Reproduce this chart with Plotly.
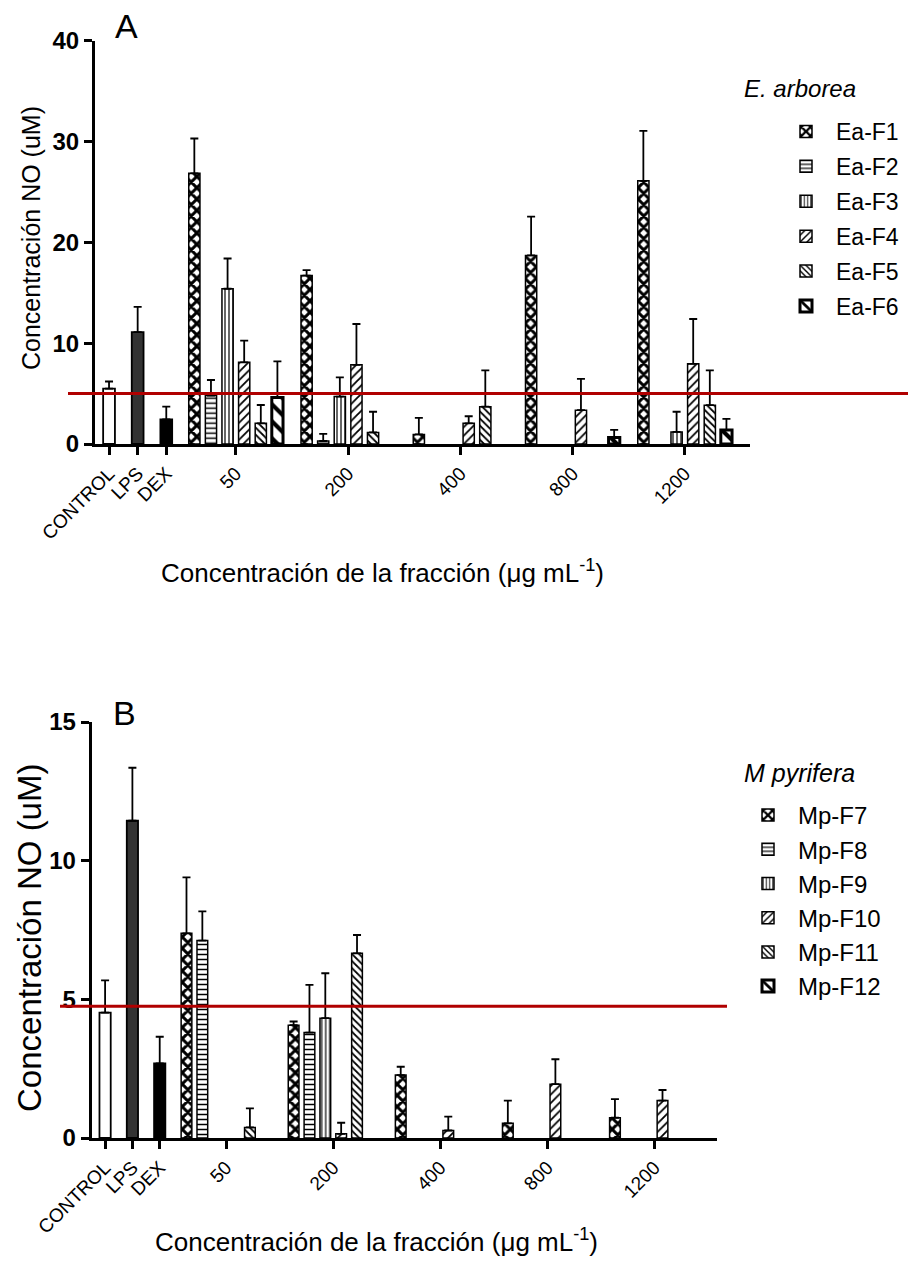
import plotly.graph_objects as go

# ---------------- data ----------------
controls = ["CONTROL", "LPS", "DEX"]
concentrations = ["50", "200", "400", "800", "1200"]

# Panel A - E. arborea
a_series = ["Ea-F1", "Ea-F2", "Ea-F3", "Ea-F4", "Ea-F5", "Ea-F6"]
a_control_mean = [5.5, 11.1, 2.45]
a_control_err = [0.7, 2.5, 1.25]
a_f1 = [26.85, 16.7, 0.95, 18.7, 26.1]
a_f1_err = [3.45, 0.55, 1.65, 3.85, 4.95]
a_f2 = [4.8, 0.3, None, None, None]
a_f2_err = [1.55, 0.7, None, None, None]
a_f3 = [15.4, 4.7, None, None, 1.2]
a_f3_err = [3.0, 1.9, None, None, 2.0]
a_f4 = [8.1, 7.85, 2.05, 3.35, 7.95]
a_f4_err = [2.15, 4.05, 0.7, 3.1, 4.45]
a_f5 = [2.05, 1.15, 3.7, None, 3.85]
a_f5_err = [1.82, 2.05, 3.6, None, 3.45]
a_f6 = [4.6, None, None, 0.65, 1.4]
a_f6_err = [3.6, None, None, 0.75, 1.1]
threshold_a = 5.0

# Panel B - M. pyrifera
b_series = ["Mp-F7", "Mp-F8", "Mp-F9", "Mp-F10", "Mp-F11", "Mp-F12"]
b_control_mean = [4.52, 11.44, 2.69]
b_control_err = [1.16, 1.91, 0.96]
b_f7 = [7.38, 4.07, 2.27, 0.53, 0.73]
b_f7_err = [2.02, 0.13, 0.3, 0.82, 0.67]
b_f8 = [7.12, 3.8, None, None, None]
b_f8_err = [1.05, 1.72, None, None, None]
b_f9 = [None, 4.32, None, None, None]
b_f9_err = [None, 1.62, None, None, None]
b_f10 = [None, 0.15, 0.27, 1.94, 1.35]
b_f10_err = [None, 0.4, 0.5, 0.9, 0.38]
b_f11 = [0.38, 6.66, None, None, None]
b_f11_err = [0.69, 0.66, None, None, None]
b_f12 = [None, None, None, None, None]
b_f12_err = [None, None, None, None, None]
threshold_b = 4.75

a_values = [a_f1, a_f2, a_f3, a_f4, a_f5, a_f6]
a_errors = [a_f1_err, a_f2_err, a_f3_err, a_f4_err, a_f5_err, a_f6_err]
b_values = [b_f7, b_f8, b_f9, b_f10, b_f11, b_f12]
b_errors = [b_f7_err, b_f8_err, b_f9_err, b_f10_err, b_f11_err, b_f12_err]

# ---------------- style / layout constants ----------------
FONT = "Liberation Sans, Arial, Helvetica, sans-serif"
PAGE_MARGIN = 8            # default body margin of the html page
W, H = 916 - 2 * PAGE_MARGIN, 1282 - 2 * PAGE_MARGIN
CTRL_START, CTRL_STEP = -0.13, 0.255
SLOT = 0.148
BAR_W = 0.10
CTRL_W = 0.105
control_colors = ["white", "#333333", "black"]
patterns = [
    dict(shape="x", size=8, solidity=0.6),
    dict(shape="-", size=5, solidity=0.3),
    dict(shape="|", size=4, solidity=0.3),
    dict(shape="/", size=6, solidity=0.3),
    dict(shape="\\", size=5, solidity=0.35),
    dict(shape="\\", size=12, solidity=0.35),
]
line_widths = [1.5, 1.5, 1.5, 1.5, 1.5, 3]

ctrl_x = [CTRL_START + i * CTRL_STEP for i in range(len(controls))]
group_x = [j + 1 for j in range(len(concentrations))]


def err(arr):
    return dict(type="data", array=arr, arrayminus=[0 if v is not None else None for v in arr],
                symmetric=False, color="black", thickness=1.8, width=4)


fig = go.Figure()


def add_panel(xa, ya, legend, ctrl_mean, ctrl_err, names, values, errors):
    fig.add_trace(go.Bar(
        x=ctrl_x, y=ctrl_mean, width=CTRL_W, xaxis=xa, yaxis=ya,
        marker=dict(color=control_colors, line=dict(color="black", width=1.8)),
        error_y=err(ctrl_err), showlegend=False))
    for k, (name, vals, errs) in enumerate(zip(names, values, errors)):
        center = (k - 2.5) * SLOT
        fig.add_trace(go.Bar(
            x=group_x, y=vals, width=BAR_W, offset=center - BAR_W / 2,
            xaxis=xa, yaxis=ya, name=name, legend=legend, legendgroup=name,
            marker=dict(color="white", line=dict(color="black", width=line_widths[k]),
                        pattern=dict(fgcolor="black", bgcolor="white", fillmode="replace",
                                     **patterns[k])),
            error_y=err(errs)))


add_panel("x", "y", "legend", a_control_mean, a_control_err, a_series, a_values, a_errors)
add_panel("x2", "y2", "legend2", b_control_mean, b_control_err, b_series, b_values, b_errors)


def px_x(p):
    return (p - PAGE_MARGIN) / W


def px_y(p):
    return 1 - (p - PAGE_MARGIN) / H


xcommon = dict(
    tickvals=ctrl_x + group_x, ticktext=controls + concentrations, tickangle=-45,
    showline=True, linewidth=3, linecolor="black", ticks="outside", ticklen=8,
    tickwidth=3, tickcolor="black", showgrid=False, zeroline=False, automargin=False,
    tickfont=dict(family=FONT, size=19, color="black"), range=[-0.255, 5.58])
ycommon = dict(
    showline=True, linewidth=3, linecolor="black", ticks="outside", ticklen=8,
    tickwidth=3, tickcolor="black", showgrid=False, zeroline=False, automargin=False,
    tickfont=dict(family=FONT, size=24, color="black", weight="bold"))

fig.update_layout(
    width=W, height=H, margin=dict(l=0, r=0, t=0, b=0, autoexpand=False),
    paper_bgcolor="white", plot_bgcolor="white", barmode="overlay",
    font=dict(family=FONT, color="black"),
    xaxis=dict(domain=[px_x(95), px_x(750)], anchor="y", **xcommon),
    yaxis=dict(domain=[px_y(444), px_y(40.7)], anchor="x", range=[0, 40], dtick=10, **ycommon),
    xaxis2=dict(domain=[px_x(91.7), px_x(716.7)], anchor="y2", **xcommon),
    yaxis2=dict(domain=[px_y(1138), px_y(722)], anchor="x2", range=[0, 15], dtick=5, **ycommon),
    legend=dict(x=px_x(776), y=px_y(110), xanchor="left", yanchor="top",
                font=dict(family=FONT, size=23), itemwidth=50, tracegroupgap=2,
                bgcolor="rgba(0,0,0,0)"),
    legend2=dict(x=px_x(738), y=px_y(793), xanchor="left", yanchor="top",
                 font=dict(family=FONT, size=24), itemwidth=50, tracegroupgap=0,
                 bgcolor="rgba(0,0,0,0)"),
)

fig.add_shape(type="line", xref="paper", yref="y", x0=px_x(68), x1=px_x(912),
              y0=threshold_a, y1=threshold_a, line=dict(color="#b00000", width=3), layer="above")
fig.add_shape(type="line", xref="paper", yref="y2", x0=px_x(60), x1=px_x(727),
              y0=threshold_b, y1=threshold_b, line=dict(color="#b00000", width=3), layer="above")

xtitle = "Concentración de la fracción (μg mL<sup>-1</sup>)"
ytitle = "Concentración NO (uM)"
annots = [
    dict(text="A", x=px_x(126), y=px_y(26), size=34),
    dict(text="B", x=px_x(124), y=px_y(713), size=34),
    dict(text=xtitle, x=px_x(382), y=px_y(572), size=26),
    dict(text=xtitle, x=px_x(376), y=px_y(1240), size=26),
    dict(text=ytitle, x=px_x(31), y=px_y(238), size=25, angle=-90),
    dict(text=ytitle, x=px_x(29), y=px_y(938), size=33, angle=-90),
]
for a in annots:
    fig.add_annotation(text=a["text"], x=a["x"], y=a["y"], xref="paper", yref="paper",
                       showarrow=False, xanchor="center", yanchor="middle",
                       textangle=a.get("angle", 0),
                       font=dict(family=FONT, size=a["size"], color="black"))
fig.add_annotation(text="<i>E. arborea</i>", x=px_x(742), y=px_y(88), xref="paper", yref="paper",
                   showarrow=False, xanchor="left", yanchor="middle",
                   font=dict(family=FONT, size=24, color="black"))
fig.add_annotation(text="<i>M pyrifera</i>", x=px_x(742), y=px_y(773), xref="paper", yref="paper",
                   showarrow=False, xanchor="left", yanchor="middle",
                   font=dict(family=FONT, size=25, color="black"))

fig.write_html("out.html")
